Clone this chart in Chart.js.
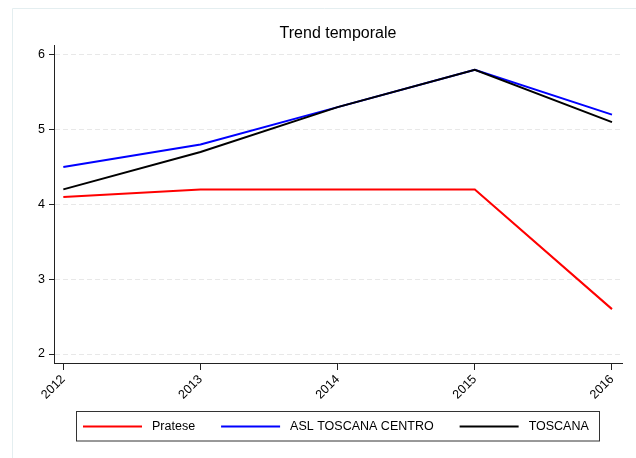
<!DOCTYPE html>
<html>
<head>
<meta charset="utf-8">
<script src="https://cdn.jsdelivr.net/npm/chart.js@4"></script>
<style>
html, body { margin: 0; padding: 0; background: #fff; }
canvas { display: block; }
</style>
</head>
<body>
<canvas id="chart" width="636" height="458"></canvas>
<script>
const YEARS = [2012, 2013, 2014, 2015, 2016];
const Y_TICKS = [2, 3, 4, 5, 6];
const SERIES_NAMES = ['Pratese', 'ASL TOSCANA CENTRO', 'TOSCANA'];
const PRATESE = [4.1, 4.2, 4.2, 4.2, 2.6];
const ASL_CENTRO = [4.5, 4.8, 5.3, 5.8, 5.2];
const TOSCANA = [4.2, 4.7, 5.3, 5.8, 5.1];
const COLORS = ['#ff0000', '#0000ff', '#000000'];
const TITLE = 'Trend temporale';

const FONT = "'Liberation Sans', Arial, sans-serif";

const toPoints = vals => YEARS.map((yr, i) => ({ x: yr, y: vals[i] }));

// background + faint outer frame
const framePlugin = {
    id: 'frame',
    beforeDraw(chart) {
        const ctx = chart.ctx;
        ctx.save();
        ctx.fillStyle = '#fff';
        ctx.fillRect(0, 0, chart.width, chart.height);
        ctx.strokeStyle = '#e4eef0';
        ctx.lineWidth = 1;
        ctx.beginPath();
        ctx.moveTo(12.5, chart.height);
        ctx.lineTo(12.5, 8.5);
        ctx.lineTo(chart.width, 8.5);
        ctx.stroke();
        ctx.restore();
    }
};

// title + boxed legend, stata style
const titleLegendPlugin = {
    id: 'titleLegend',
    afterDraw(chart) {
        const ctx = chart.ctx;
        const area = chart.chartArea;
        ctx.save();
        ctx.fillStyle = '#000';
        ctx.font = '16px ' + FONT;
        ctx.textAlign = 'center';
        ctx.textBaseline = 'alphabetic';
        ctx.fillText(TITLE, (area.left + area.right) / 2, 37.5);

        // legend box
        ctx.strokeStyle = '#333';
        ctx.lineWidth = 1;
        ctx.strokeRect(76.5, 411.5, 523, 29.5);

        ctx.font = '12.5px ' + FONT;
        ctx.textAlign = 'left';
        ctx.textBaseline = 'middle';
        const cy = 426.5;
        let x = 83;
        chart.data.datasets.forEach(ds => {
            ctx.strokeStyle = ds.borderColor;
            ctx.lineWidth = 2;
            ctx.beginPath();
            ctx.moveTo(x, cy);
            ctx.lineTo(x + 59, cy);
            ctx.stroke();
            x += 69;
            ctx.fillStyle = '#000';
            ctx.fillText(ds.label, x, cy + 0.5);
            x += ctx.measureText(ds.label).width + 26;
        });
        ctx.restore();
    }
};

const ctx = document.getElementById('chart').getContext('2d');
const myChart = new Chart(ctx, {
    type: 'line',
    data: {
        datasets: [
            { label: SERIES_NAMES[0], data: toPoints(PRATESE), borderColor: COLORS[0], order: 2 },
            { label: SERIES_NAMES[1], data: toPoints(ASL_CENTRO), borderColor: COLORS[1], order: 1 },
            { label: SERIES_NAMES[2], data: toPoints(TOSCANA), borderColor: COLORS[2], order: 0 }
        ]
    },
    options: {
        responsive: false,
        animation: false,
        devicePixelRatio: 1,
        layout: { padding: { top: 45, right: 14, left: 0, bottom: 0 } },
        elements: {
            line: { borderWidth: 2, tension: 0, fill: false, borderJoinStyle: 'miter' },
            point: { radius: 0, hoverRadius: 0 }
        },
        scales: {
            x: {
                type: 'linear',
                min: 2011.932,
                max: 2016.073,
                afterBuildTicks: s => { s.ticks = YEARS.map(v => ({ value: v })); },
                afterFit: s => { s.height = 95; },
                grid: { drawOnChartArea: false, tickLength: 7, tickColor: '#222', tickWidth: 1 },
                border: { color: '#222', width: 1 },
                ticks: {
                    autoSkip: false,
                    minRotation: 45,
                    maxRotation: 45,
                    padding: 2,
                    color: '#000',
                    font: { family: FONT, size: 12.5 },
                    callback: v => String(v)
                }
            },
            y: {
                min: 1.88,
                max: 6.13,
                afterBuildTicks: s => { s.ticks = Y_TICKS.map(v => ({ value: v })); },
                afterFit: s => { s.width = 54; },
                grid: { color: '#e8e8e8', lineWidth: 1, tickLength: 5, tickColor: '#222', tickWidth: 1 },
                border: { color: '#222', width: 1, dash: [5, 3] },
                ticks: {
                    padding: 4,
                    color: '#000',
                    font: { family: FONT, size: 12.5 },
                    callback: v => String(v)
                }
            }
        },
        plugins: {
            legend: { display: false },
            title: { display: false },
            tooltip: { enabled: false }
        }
    },
    plugins: [framePlugin, titleLegendPlugin]
});
</script>
</body>
</html>
